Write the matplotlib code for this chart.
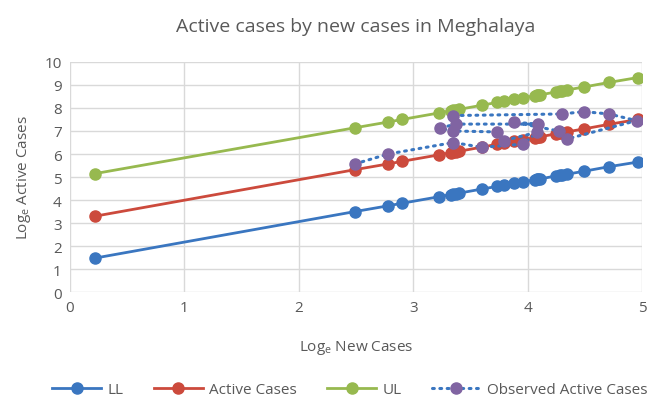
import matplotlib
matplotlib.use("Agg")
import matplotlib.pyplot as plt
import numpy as np

plt.rcParams['font.family'] = ['Open Sans', 'DejaVu Sans']
plt.rcParams['mathtext.fontset'] = 'custom'
plt.rcParams['mathtext.rm'] = 'Open Sans'

# --- values
log_new = [0.22, 2.49, 2.78, 2.90, 3.22, 3.33, 3.35, 3.37, 3.40, 3.60, 3.73, 3.79, 3.88,
           3.96, 4.06, 4.08, 4.09, 4.11, 4.25, 4.28, 4.30, 4.34, 4.49, 4.71, 4.96]
ll = [1.48, 3.50, 3.75, 3.86, 4.14, 4.24, 4.26, 4.28, 4.30, 4.48, 4.59, 4.64, 4.72,
      4.79, 4.88, 4.90, 4.91, 4.92, 5.05, 5.07, 5.09, 5.12, 5.25, 5.45, 5.65]
active = [3.30, 5.32, 5.57, 5.68, 5.96, 6.06, 6.08, 6.10, 6.12, 6.30, 6.42, 6.47, 6.55,
          6.62, 6.71, 6.73, 6.74, 6.75, 6.88, 6.91, 6.92, 6.96, 7.09, 7.29, 7.50]
ul = [5.15, 7.14, 7.39, 7.50, 7.78, 7.88, 7.90, 7.92, 7.94, 8.12, 8.24, 8.29, 8.37,
      8.44, 8.53, 8.55, 8.56, 8.57, 8.70, 8.73, 8.74, 8.78, 8.91, 9.11, 9.32]

obs_x = [2.49, 2.78, 3.35, 3.60, 3.96, 4.08, 3.79, 3.73, 3.35, 3.23, 3.37, 4.09,
         3.88, 4.27, 4.34, 4.95, 4.71, 4.49, 4.30, 3.35]
obs_y = [5.57, 6.00, 6.50, 6.29, 6.43, 6.94, 6.58, 6.96, 7.00, 7.12, 7.30, 7.30,
         7.38, 7.00, 6.65, 7.45, 7.74, 7.84, 7.74, 7.67]

blue = '#3a76c0'
red = '#cc4a3c'
green = '#97b94f'
purple = '#8064a2'
grey = '#595959'

fig = plt.figure(figsize=(6.54, 4.06), dpi=100)
ax = fig.add_axes([0.107, 0.278, 0.875, 0.567])

ax.plot(log_new, ll, color=blue, lw=2, marker='o', ms=8, label='LL', zorder=3)
ax.plot(log_new, active, color=red, lw=2, marker='o', ms=8, label='Active Cases', zorder=3)
ax.plot(log_new, ul, color=green, lw=2, marker='o', ms=8, label='UL', zorder=3)
ax.plot(obs_x, obs_y, color=blue, lw=2.2, ls=(0, (0.6, 1.8)), dash_capstyle='round',
        marker='o', ms=8, mfc=purple, mec=purple, label='Observed Active Cases', zorder=4)

ax.set_xlim(0, 5)
ax.set_ylim(0, 10)
ax.set_xticks(range(0, 6))
ax.set_yticks(range(0, 11))
ax.grid(True, color='#d9d9d9', lw=1)
ax.set_axisbelow(True)
for s in ax.spines.values():
    s.set_visible(False)
ax.tick_params(length=0, labelsize=11, colors=grey, pad=6)

ax.set_title('Active cases by new cases in Meghalaya', fontsize=14, color=grey, pad=22)
ax.set_xlabel(r'Log$_\mathregular{e}$ New Cases', fontsize=11, color=grey, labelpad=16)
ax.set_ylabel(r'Log$_\mathregular{e}$ Active Cases', fontsize=11, color=grey, labelpad=8)

leg = fig.legend(loc='lower center', bbox_to_anchor=(0.535, -0.015), ncol=4, frameon=False,
                 fontsize=11, handlelength=3.2, columnspacing=2.0, handletextpad=0.4)
for t in leg.get_texts():
    t.set_color(grey)

fig.savefig('out.png', dpi=100)
